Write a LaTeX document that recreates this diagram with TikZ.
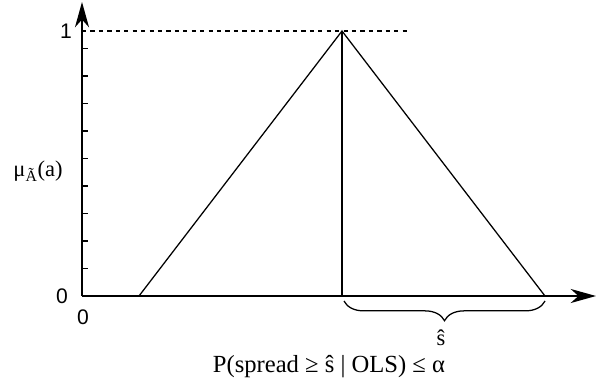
\documentclass[tikz,border=0pt]{standalone}
\usepackage{fontspec}
\setmainfont{Liberation Serif}
\newfontfamily\numfont{Liberation Sans}
\usetikzlibrary{arrows.meta,decorations.pathreplacing}

\tikzset{
  axisline/.style={line width=1.1pt,-{Stealth[length=18pt,width=10pt,inset=5.5pt]}},
  edge/.style={line width=0.9pt},
  tick/.style={line width=1pt},
  numlabel/.style={font=\numfont\fontsize{15}{17}\selectfont,inner sep=0pt},
  txtlabel/.style={font=\fontsize{16}{18}\selectfont,inner sep=0pt},
}

\begin{document}
\begin{tikzpicture}[x=0.025cm,y=-0.025cm]
  \useasboundingbox (0,0) rectangle (597,382);
  % axes
  \coordinate (o) at (82,296);
  \coordinate (ytop) at (82,2);
  \coordinate (xend) at (596,296);
  \draw[axisline] (o) -- (ytop);
  \draw[axisline] (o) -- (xend);
  \foreach \y in {48.5,76,103.5,131,158.5,186,213.5,241,268.5}
    \draw[tick] (82,\y) -- (88,\y);
  % triangle
  \coordinate (left) at (139,296);
  \coordinate (apex) at (342,31);
  \coordinate (right) at (545,296);
  \coordinate (foot) at (342,296);
  \coordinate (top) at (82,31);
  \coordinate (dend) at (410,31);
  \draw[line width=0.8pt,dashed] (top) -- (dend);
  \draw[edge] (left) -- (apex) -- (right);
  \draw[edge] (apex) -- (foot);
  % spread brace
  \coordinate (bl) at (344,301);
  \coordinate (br) at (545,301);
  \draw[edge,decorate,decoration={brace,mirror,amplitude=14pt}] (bl) -- (br);
  % labels
  \node[numlabel] (one) at (66,31) {1};
  \node[numlabel] (zero) at (62,296) {0};
  \node[numlabel] (orig) at (83,317) {0};
  \node[txtlabel] (mu) at (38,171) {μ\textsubscript{Ã}(a)};
  \node[txtlabel] (shat) at (441,338) {ŝ};
  \node[font=\fontsize{17.5}{19}\selectfont,inner sep=0pt] (prob) at (329,367) {P(spread ≥ ŝ | OLS) ≤ α};
\end{tikzpicture}
\end{document}
